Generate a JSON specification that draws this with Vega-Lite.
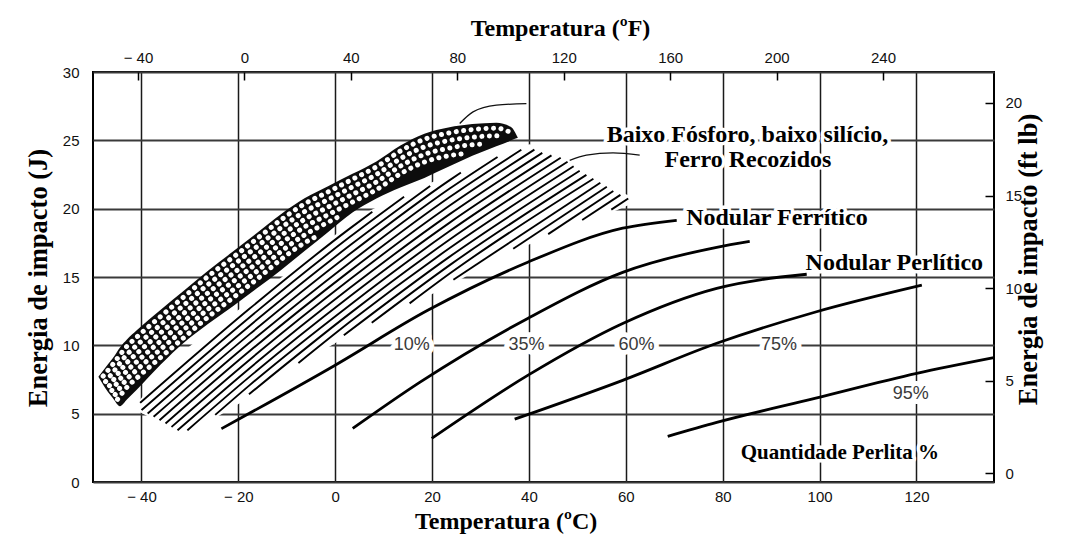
{
  "$schema": "https://vega.github.io/schema/vega-lite/v6.json",
  "description": "Energia de impacto em função da temperatura: ferros de baixo fósforo e baixo silício, ferros recozidos e ferros nodulares com diferentes teores de perlita.",
  "width": 901,
  "height": 410,
  "autosize": {"type": "none"},
  "padding": {"left": 93, "top": 72, "right": 73, "bottom": 58},
  "background": "white",
  "config": {
    "view": {"stroke": "#000", "strokeWidth": 2},
    "axis": {
      "domain": false,
      "ticks": false,
      "labelFont": "Liberation Sans",
      "labelFontSize": 15,
      "labelColor": "#111",
      "titleFont": "Liberation Serif",
      "titleFontWeight": "bold",
      "titleColor": "#000"
    }
  },
  "datasets": {
    "campo": [
      {"temp": -40.98, "sup": 5.68, "inf": 5.24},
      {"temp": -38.3, "sup": 6.93, "inf": 4.73},
      {"temp": -32.52, "sup": 9.19, "inf": 3.56},
      {"temp": -30.04, "sup": 9.93, "inf": 3.56},
      {"temp": -24.88, "sup": 11.32, "inf": 4.66},
      {"temp": -15.59, "sup": 13.73, "inf": 6.63},
      {"temp": -7.33, "sup": 16.0, "inf": 8.54},
      {"temp": 0.93, "sup": 18.34, "inf": 10.37},
      {"temp": 6.5, "sup": 19.74, "inf": 11.24},
      {"temp": 12.7, "sup": 20.83, "inf": 12.34},
      {"temp": 19.51, "sup": 21.86, "inf": 13.66},
      {"temp": 26.32, "sup": 22.88, "inf": 14.9},
      {"temp": 32.52, "sup": 23.84, "inf": 16.15},
      {"temp": 40.16, "sup": 24.72, "inf": 17.39},
      {"temp": 44.91, "sup": 24.1, "inf": 18.05},
      {"temp": 49.04, "sup": 23.37, "inf": 18.71},
      {"temp": 53.99, "sup": 22.28, "inf": 19.3},
      {"temp": 58.12, "sup": 21.35, "inf": 19.88},
      {"temp": 61.43, "sup": 20.83, "inf": 20.39}
    ],
    "hachura": [
      {"linha": "h01", "temp": -40.26, "energia": 5.79}, {"linha": "h01", "temp": -17.65, "energia": 12.69}, {"linha": "h01", "temp": 2.99, "energia": 18.54}, {"linha": "h01", "temp": 7.66, "energia": 19.77},
      {"linha": "h02", "temp": -39.97, "energia": 5.26}, {"linha": "h02", "temp": -17.65, "energia": 12.06}, {"linha": "h02", "temp": 2.99, "energia": 17.92}, {"linha": "h02", "temp": 14.22, "energia": 20.87},
      {"linha": "h03", "temp": -38.73, "energia": 5.01}, {"linha": "h03", "temp": -17.65, "energia": 11.44}, {"linha": "h03", "temp": 2.99, "energia": 17.3}, {"linha": "h03", "temp": 19.61, "energia": 21.66},
      {"linha": "h04", "temp": -37.49, "energia": 4.77}, {"linha": "h04", "temp": -17.65, "energia": 10.82}, {"linha": "h04", "temp": 2.99, "energia": 16.68}, {"linha": "h04", "temp": 23.64, "energia": 22.09}, {"linha": "h04", "temp": 25.95, "energia": 22.64},
      {"linha": "h05", "temp": -36.27, "energia": 4.52}, {"linha": "h05", "temp": -17.65, "energia": 10.2}, {"linha": "h05", "temp": 2.99, "energia": 16.05}, {"linha": "h05", "temp": 23.64, "energia": 21.47}, {"linha": "h05", "temp": 33.51, "energia": 23.78},
      {"linha": "h06", "temp": -35.03, "energia": 4.28}, {"linha": "h06", "temp": -17.65, "energia": 9.58}, {"linha": "h06", "temp": 2.99, "energia": 15.43}, {"linha": "h06", "temp": 23.64, "energia": 20.85}, {"linha": "h06", "temp": 38.42, "energia": 24.31},
      {"linha": "h07", "temp": -33.79, "energia": 4.03}, {"linha": "h07", "temp": -17.65, "energia": 8.95}, {"linha": "h07", "temp": 2.99, "energia": 14.81}, {"linha": "h07", "temp": 23.64, "energia": 20.23}, {"linha": "h07", "temp": 41.12, "energia": 24.32},
      {"linha": "h08", "temp": -32.56, "energia": 3.78}, {"linha": "h08", "temp": -17.65, "energia": 8.33}, {"linha": "h08", "temp": 2.99, "energia": 14.19}, {"linha": "h08", "temp": 23.64, "energia": 19.6}, {"linha": "h08", "temp": 42.75, "energia": 24.08},
      {"linha": "h09", "temp": -30.53, "energia": 3.78}, {"linha": "h09", "temp": -17.65, "energia": 7.71}, {"linha": "h09", "temp": 2.99, "energia": 13.57}, {"linha": "h09", "temp": 23.64, "energia": 18.98}, {"linha": "h09", "temp": 44.65, "energia": 23.9},
      {"linha": "h10", "temp": -24.77, "energia": 4.91}, {"linha": "h10", "temp": -17.65, "energia": 7.09}, {"linha": "h10", "temp": 2.99, "energia": 12.94}, {"linha": "h10", "temp": 23.64, "energia": 18.36}, {"linha": "h10", "temp": 46.55, "energia": 23.73},
      {"linha": "h11", "temp": -17.8, "energia": 6.42}, {"linha": "h11", "temp": 2.99, "energia": 12.32}, {"linha": "h11", "temp": 23.64, "energia": 17.74}, {"linha": "h11", "temp": 47.96, "energia": 23.43},
      {"linha": "h12", "temp": -7.6, "energia": 8.7}, {"linha": "h12", "temp": 2.99, "energia": 11.7}, {"linha": "h12", "temp": 23.64, "energia": 17.12}, {"linha": "h12", "temp": 49.22, "energia": 23.1},
      {"linha": "h13", "temp": 1.78, "energia": 10.73}, {"linha": "h13", "temp": 23.64, "energia": 16.49}, {"linha": "h13", "temp": 50.47, "energia": 22.77},
      {"linha": "h14", "temp": 7.54, "energia": 11.65}, {"linha": "h14", "temp": 23.64, "energia": 15.87}, {"linha": "h14", "temp": 51.86, "energia": 22.47},
      {"linha": "h15", "temp": 15.36, "energia": 13.07}, {"linha": "h15", "temp": 23.64, "energia": 15.25}, {"linha": "h15", "temp": 53.3, "energia": 22.19},
      {"linha": "h16", "temp": 24.4, "energia": 14.8}, {"linha": "h16", "temp": 54.73, "energia": 21.9},
      {"linha": "h17", "temp": 36.75, "energia": 17.07}, {"linha": "h17", "temp": 56.07, "energia": 21.6},
      {"linha": "h18", "temp": 43.97, "energia": 18.14}, {"linha": "h18", "temp": 57.41, "energia": 21.29},
      {"linha": "h19", "temp": 50.99, "energia": 19.17}, {"linha": "h19", "temp": 58.88, "energia": 21.01},
      {"linha": "h20", "temp": 57.0, "energia": 19.93}, {"linha": "h20", "temp": 60.49, "energia": 20.74}
    ],
    "malha": [
      {"temp": -48.89, "sup": 7.7, "inf": 7.7},
      {"temp": -46.91, "sup": 8.61, "inf": 6.59},
      {"temp": -45.92, "sup": 9.05, "inf": 6.15},
      {"temp": -44.43, "sup": 9.85, "inf": 5.55},
      {"temp": -42.95, "sup": 10.45, "inf": 6.05},
      {"temp": -40.97, "sup": 11.1, "inf": 6.75},
      {"temp": -36.02, "sup": 12.6, "inf": 8.6},
      {"temp": -31.07, "sup": 14.05, "inf": 10.25},
      {"temp": -26.13, "sup": 15.5, "inf": 11.6},
      {"temp": -21.18, "sup": 16.84, "inf": 12.84},
      {"temp": -16.23, "sup": 18.2, "inf": 14.15},
      {"temp": -11.28, "sup": 19.58, "inf": 15.48},
      {"temp": -6.33, "sup": 20.76, "inf": 16.9},
      {"temp": -1.38, "sup": 21.66, "inf": 18.31},
      {"temp": 3.57, "sup": 22.55, "inf": 19.72},
      {"temp": 8.51, "sup": 23.46, "inf": 20.74},
      {"temp": 13.46, "sup": 24.62, "inf": 21.54},
      {"temp": 18.41, "sup": 25.48, "inf": 22.25},
      {"temp": 23.36, "sup": 25.94, "inf": 23.06},
      {"temp": 28.31, "sup": 26.19, "inf": 23.87},
      {"temp": 33.26, "sup": 26.29, "inf": 24.57},
      {"temp": 36.23, "sup": 25.99, "inf": 24.98},
      {"temp": 37.71, "sup": 25.18, "inf": 25.18}
    ],
    "furos": [
      {"fila": "A", "temp": -47.9, "energia": 7.75}, {"fila": "A", "temp": -45.92, "energia": 8.6}, {"fila": "A", "temp": -42.95, "energia": 9.95}, {"fila": "A", "temp": -40.97, "energia": 10.6}, {"fila": "A", "temp": -36.02, "energia": 12.12}, {"fila": "A", "temp": -31.07, "energia": 13.6}, {"fila": "A", "temp": -26.13, "energia": 15.08}, {"fila": "A", "temp": -21.18, "energia": 16.42}, {"fila": "A", "temp": -16.23, "energia": 17.78}, {"fila": "A", "temp": -11.28, "energia": 19.16}, {"fila": "A", "temp": -6.33, "energia": 20.35}, {"fila": "A", "temp": -1.38, "energia": 21.24}, {"fila": "A", "temp": 3.57, "energia": 22.15}, {"fila": "A", "temp": 8.51, "energia": 23.06}, {"fila": "A", "temp": 13.46, "energia": 24.22}, {"fila": "A", "temp": 18.41, "energia": 25.08}, {"fila": "A", "temp": 23.36, "energia": 25.53}, {"fila": "A", "temp": 28.31, "energia": 25.79}, {"fila": "A", "temp": 33.26, "energia": 25.89}, {"fila": "A", "temp": 36.23, "energia": 25.58},
      {"fila": "B", "temp": -47.4, "energia": 7.35}, {"fila": "B", "temp": -45.92, "energia": 8.0}, {"fila": "B", "temp": -42.95, "energia": 9.35}, {"fila": "B", "temp": -40.97, "energia": 10.0}, {"fila": "B", "temp": -36.02, "energia": 11.52}, {"fila": "B", "temp": -31.07, "energia": 13.0}, {"fila": "B", "temp": -26.13, "energia": 14.48}, {"fila": "B", "temp": -21.18, "energia": 15.84}, {"fila": "B", "temp": -16.23, "energia": 17.2}, {"fila": "B", "temp": -11.28, "energia": 18.58}, {"fila": "B", "temp": -6.33, "energia": 19.78}, {"fila": "B", "temp": -1.38, "energia": 20.68}, {"fila": "B", "temp": 3.57, "energia": 21.59}, {"fila": "B", "temp": 8.51, "energia": 22.5}, {"fila": "B", "temp": 13.46, "energia": 23.66}, {"fila": "B", "temp": 18.41, "energia": 24.52}, {"fila": "B", "temp": 23.36, "energia": 24.98}, {"fila": "B", "temp": 28.31, "energia": 25.23}, {"fila": "B", "temp": 33.26, "energia": 25.33}, {"fila": "B", "temp": 34.74, "energia": 25.18},
      {"fila": "C", "temp": -46.61, "energia": 7.05}, {"fila": "C", "temp": -45.92, "energia": 7.4}, {"fila": "C", "temp": -42.95, "energia": 8.75}, {"fila": "C", "temp": -40.97, "energia": 9.4}, {"fila": "C", "temp": -36.02, "energia": 10.92}, {"fila": "C", "temp": -31.07, "energia": 12.4}, {"fila": "C", "temp": -26.13, "energia": 13.88}, {"fila": "C", "temp": -21.18, "energia": 15.24}, {"fila": "C", "temp": -16.23, "energia": 16.6}, {"fila": "C", "temp": -11.28, "energia": 18.0}, {"fila": "C", "temp": -6.33, "energia": 19.22}, {"fila": "C", "temp": -1.38, "energia": 20.13}, {"fila": "C", "temp": 3.57, "energia": 21.04}, {"fila": "C", "temp": 8.51, "energia": 21.95}, {"fila": "C", "temp": 13.46, "energia": 23.11}, {"fila": "C", "temp": 18.41, "energia": 23.97}, {"fila": "C", "temp": 23.36, "energia": 24.42}, {"fila": "C", "temp": 28.31, "energia": 24.68}, {"fila": "C", "temp": 31.28, "energia": 24.73},
      {"fila": "D", "temp": -46.12, "energia": 6.7}, {"fila": "D", "temp": -42.95, "energia": 8.15}, {"fila": "D", "temp": -40.97, "energia": 8.8}, {"fila": "D", "temp": -36.02, "energia": 10.32}, {"fila": "D", "temp": -31.07, "energia": 11.8}, {"fila": "D", "temp": -26.13, "energia": 13.28}, {"fila": "D", "temp": -21.18, "energia": 14.64}, {"fila": "D", "temp": -16.23, "energia": 16.0}, {"fila": "D", "temp": -11.28, "energia": 17.42}, {"fila": "D", "temp": -6.33, "energia": 18.66}, {"fila": "D", "temp": -1.38, "energia": 19.57}, {"fila": "D", "temp": 3.57, "energia": 20.48}, {"fila": "D", "temp": 8.51, "energia": 21.39}, {"fila": "D", "temp": 13.46, "energia": 22.55}, {"fila": "D", "temp": 18.41, "energia": 23.41}, {"fila": "D", "temp": 23.36, "energia": 23.87}, {"fila": "D", "temp": 26.33, "energia": 24.02},
      {"fila": "E", "temp": -45.42, "energia": 6.4}, {"fila": "E", "temp": -42.95, "energia": 7.55}, {"fila": "E", "temp": -40.97, "energia": 8.2}, {"fila": "E", "temp": -36.02, "energia": 9.72}, {"fila": "E", "temp": -31.07, "energia": 11.2}, {"fila": "E", "temp": -26.13, "energia": 12.68}, {"fila": "E", "temp": -21.18, "energia": 14.04}, {"fila": "E", "temp": -16.23, "energia": 15.4}, {"fila": "E", "temp": -11.28, "energia": 16.84}, {"fila": "E", "temp": -6.33, "energia": 18.08}, {"fila": "E", "temp": -1.38, "energia": 19.02}, {"fila": "E", "temp": 1.59, "energia": 19.57},
      {"fila": "F", "temp": -44.93, "energia": 6.05}, {"fila": "F", "temp": -42.95, "energia": 6.95}, {"fila": "F", "temp": -40.97, "energia": 7.6}, {"fila": "F", "temp": -36.02, "energia": 9.12}, {"fila": "F", "temp": -31.07, "energia": 10.62}, {"fila": "F", "temp": -26.13, "energia": 12.1}, {"fila": "F", "temp": -21.18, "energia": 13.46}, {"fila": "F", "temp": -16.23, "energia": 14.82}, {"fila": "F", "temp": -11.28, "energia": 16.26}, {"fila": "F", "temp": -6.33, "energia": 17.5}, {"fila": "F", "temp": -3.36, "energia": 18.05}
    ],
    "curvas": [
      {"serie": "10%", "temp": -23.49, "energia": 3.9}, {"serie": "10%", "temp": -0.1, "energia": 8.53}, {"serie": "10%", "temp": 19.1, "energia": 12.56}, {"serie": "10%", "temp": 39.74, "energia": 16.08}, {"serie": "10%", "temp": 59.35, "energia": 18.57}, {"serie": "10%", "temp": 70.5, "energia": 19.15},
      {"serie": "35%", "temp": 3.61, "energia": 3.92}, {"serie": "35%", "temp": 17.44, "energia": 7.29}, {"serie": "35%", "temp": 39.74, "energia": 11.97}, {"serie": "35%", "temp": 59.35, "energia": 15.34}, {"serie": "35%", "temp": 78.76, "energia": 17.17}, {"serie": "35%", "temp": 85.57, "energia": 17.6},
      {"serie": "60%", "temp": 19.92, "energia": 3.19}, {"serie": "60%", "temp": 39.74, "energia": 7.8}, {"serie": "60%", "temp": 59.35, "energia": 11.6}, {"serie": "60%", "temp": 78.76, "energia": 14.17}, {"serie": "60%", "temp": 97.34, "energia": 15.2},
      {"serie": "75%", "temp": 37.05, "energia": 4.6}, {"serie": "75%", "temp": 59.35, "energia": 7.44}, {"serie": "75%", "temp": 78.76, "energia": 10.15}, {"serie": "75%", "temp": 99.0, "energia": 12.42}, {"serie": "75%", "temp": 121.1, "energia": 14.4},
      {"serie": "95%", "temp": 68.64, "energia": 3.34}, {"serie": "95%", "temp": 78.76, "energia": 4.36}, {"serie": "95%", "temp": 99.0, "energia": 6.12}, {"serie": "95%", "temp": 120.05, "energia": 7.95}, {"serie": "95%", "temp": 136.0, "energia": 9.1}
    ],
    "guias": [
      {"guia": "baixo P", "temp": 25.7, "energia": 26.23}, {"guia": "baixo P", "temp": 28.45, "energia": 27.08}, {"guia": "baixo P", "temp": 33.28, "energia": 27.57}, {"guia": "baixo P", "temp": 39.47, "energia": 27.69},
      {"guia": "recozido", "temp": 48.41, "energia": 23.54}, {"guia": "recozido", "temp": 51.86, "energia": 23.91}, {"guia": "recozido", "temp": 57.35, "energia": 24.08}, {"guia": "recozido", "temp": 62.86, "energia": 23.91}
    ],
    "rotulos": [
      {"texto": "10%", "temp": 15.8, "energia": 10},
      {"texto": "35%", "temp": 39.5, "energia": 10},
      {"texto": "60%", "temp": 62.2, "energia": 10},
      {"texto": "75%", "temp": 91.6, "energia": 10},
      {"texto": "95%", "temp": 118.8, "energia": 6.41}
    ],
    "notasCentro": [
      {"texto": "Baixo Fósforo, baixo silício,", "temp": 85.1, "energia": 24.9},
      {"texto": "Ferro Recozidos", "temp": 85.2, "energia": 23.05}
    ],
    "notasEsquerda": [
      {"texto": "Nodular Ferrítico", "temp": 72.45, "energia": 18.78},
      {"texto": "Nodular Perlítico", "temp": 97.1, "energia": 15.5}
    ],
    "notaPerlita": [
      {"texto": "Quantidade Perlita %", "temp": 83.7, "energia": 1.68}
    ],
    "escalaF": [
      {"f": -40}, {"f": 0}, {"f": 40}, {"f": 80}, {"f": 120}, {"f": 160}, {"f": 200}, {"f": 240}
    ],
    "escalaFtLb": [
      {"ftlb": 0}, {"ftlb": 5}, {"ftlb": 10}, {"ftlb": 15}, {"ftlb": 20}
    ]
  },
  "resolve": {
    "scale": {"x": "independent", "y": "independent"},
    "axis": {"x": "independent", "y": "independent"}
  },
  "layer": [
    {
      "data": {"name": "campo"},
      "mark": {"type": "area", "fill": "white", "interpolate": "linear"},
      "encoding": {
        "x": {
          "field": "temp", "type": "quantitative",
          "scale": {"domain": [-50, 136], "nice": false, "zero": false},
          "axis": {
            "orient": "bottom",
            "values": [-40, -20, 0, 20, 40, 60, 80, 100, 120],
            "labelExpr": "datum.value < 0 ? '− ' + abs(datum.value) : '' + datum.value",
            "grid": true, "gridColor": "#1a1a1a", "gridWidth": 1.5,
            "labelPadding": 7,
            "title": "Temperatura (ºC)", "titleFontSize": 24,
            "titleX": 412.6, "titleY": 46.3, "titleAlign": "center", "titleBaseline": "alphabetic",
            "zindex": 0
          }
        },
        "y": {
          "field": "sup", "type": "quantitative",
          "scale": {"domain": [0, 30], "nice": false, "zero": false},
          "axis": {
            "orient": "left",
            "values": [0, 5, 10, 15, 20, 25, 30],
            "grid": true, "gridColor": "#3a3a3a", "gridWidth": 2,
            "labelPadding": 14,
            "title": "Energia de impacto (J)", "titleFontSize": 26.5, "titleAngle": 270,
            "titleX": -47, "titleY": 205.5, "titleAlign": "center", "titleBaseline": "alphabetic",
            "zindex": 0
          }
        },
        "y2": {"field": "inf"}
      }
    },
    {
      "data": {"name": "hachura"},
      "mark": {"type": "line", "color": "#000", "strokeWidth": 1.9, "interpolate": "monotone"},
      "encoding": {
        "x": {"field": "temp", "type": "quantitative", "scale": {"domain": [-50, 136], "nice": false, "zero": false}, "axis": null},
        "y": {"field": "energia", "type": "quantitative", "scale": {"domain": [0, 30], "nice": false, "zero": false}, "axis": null},
        "detail": {"field": "linha"}
      }
    },
    {
      "data": {"name": "malha"},
      "mark": {"type": "area", "fill": "#0d0d0d", "interpolate": "monotone"},
      "encoding": {
        "x": {"field": "temp", "type": "quantitative", "scale": {"domain": [-50, 136], "nice": false, "zero": false}, "axis": null},
        "y": {"field": "sup", "type": "quantitative", "scale": {"domain": [0, 30], "nice": false, "zero": false}, "axis": null},
        "y2": {"field": "inf"}
      }
    },
    {
      "data": {"name": "furos"},
      "mark": {"type": "line", "color": "white", "strokeWidth": 5, "strokeDash": [0.1, 7.4], "strokeCap": "round", "interpolate": "monotone"},
      "encoding": {
        "x": {"field": "temp", "type": "quantitative", "scale": {"domain": [-50, 136], "nice": false, "zero": false}, "axis": null},
        "y": {"field": "energia", "type": "quantitative", "scale": {"domain": [0, 30], "nice": false, "zero": false}, "axis": null},
        "detail": {"field": "fila"}
      }
    },
    {
      "data": {"name": "rotulos"},
      "mark": {"type": "text", "font": "Liberation Sans", "fontSize": 18, "fill": "white", "stroke": "white", "strokeWidth": 10, "strokeJoin": "round", "align": "center", "baseline": "middle"},
      "encoding": {
        "x": {"field": "temp", "type": "quantitative", "scale": {"domain": [-50, 136], "nice": false, "zero": false}, "axis": null},
        "y": {"field": "energia", "type": "quantitative", "scale": {"domain": [0, 30], "nice": false, "zero": false}, "axis": null},
        "text": {"field": "texto"}
      }
    },
    {
      "data": {"name": "notasCentro"},
      "mark": {"type": "text", "font": "Liberation Serif", "fontWeight": "bold", "fontSize": 24, "fill": "white", "stroke": "white", "strokeWidth": 7, "strokeJoin": "round", "align": "center", "baseline": "alphabetic"},
      "encoding": {
        "x": {"field": "temp", "type": "quantitative", "scale": {"domain": [-50, 136], "nice": false, "zero": false}, "axis": null},
        "y": {"field": "energia", "type": "quantitative", "scale": {"domain": [0, 30], "nice": false, "zero": false}, "axis": null},
        "text": {"field": "texto"}
      }
    },
    {
      "data": {"name": "notasEsquerda"},
      "mark": {"type": "text", "font": "Liberation Serif", "fontWeight": "bold", "fontSize": 24, "fill": "white", "stroke": "white", "strokeWidth": 7, "strokeJoin": "round", "align": "left", "baseline": "alphabetic"},
      "encoding": {
        "x": {"field": "temp", "type": "quantitative", "scale": {"domain": [-50, 136], "nice": false, "zero": false}, "axis": null},
        "y": {"field": "energia", "type": "quantitative", "scale": {"domain": [0, 30], "nice": false, "zero": false}, "axis": null},
        "text": {"field": "texto"}
      }
    },
    {
      "data": {"name": "notaPerlita"},
      "mark": {"type": "text", "font": "Liberation Serif", "fontWeight": "bold", "fontSize": 21, "fill": "white", "stroke": "white", "strokeWidth": 7, "strokeJoin": "round", "align": "left", "baseline": "alphabetic"},
      "encoding": {
        "x": {"field": "temp", "type": "quantitative", "scale": {"domain": [-50, 136], "nice": false, "zero": false}, "axis": null},
        "y": {"field": "energia", "type": "quantitative", "scale": {"domain": [0, 30], "nice": false, "zero": false}, "axis": null},
        "text": {"field": "texto"}
      }
    },
    {
      "data": {"name": "curvas"},
      "mark": {"type": "line", "color": "#000", "strokeWidth": 2.8, "interpolate": "monotone"},
      "encoding": {
        "x": {"field": "temp", "type": "quantitative", "scale": {"domain": [-50, 136], "nice": false, "zero": false}, "axis": null},
        "y": {"field": "energia", "type": "quantitative", "scale": {"domain": [0, 30], "nice": false, "zero": false}, "axis": null},
        "detail": {"field": "serie"}
      }
    },
    {
      "data": {"name": "guias"},
      "mark": {"type": "line", "color": "#111", "strokeWidth": 1.3, "interpolate": "monotone"},
      "encoding": {
        "x": {"field": "temp", "type": "quantitative", "scale": {"domain": [-50, 136], "nice": false, "zero": false}, "axis": null},
        "y": {"field": "energia", "type": "quantitative", "scale": {"domain": [0, 30], "nice": false, "zero": false}, "axis": null},
        "detail": {"field": "guia"}
      }
    },
    {
      "data": {"name": "rotulos"},
      "mark": {"type": "text", "font": "Liberation Sans", "fontSize": 18, "fill": "#3a3a3a", "align": "center", "baseline": "middle"},
      "encoding": {
        "x": {"field": "temp", "type": "quantitative", "scale": {"domain": [-50, 136], "nice": false, "zero": false}, "axis": null},
        "y": {"field": "energia", "type": "quantitative", "scale": {"domain": [0, 30], "nice": false, "zero": false}, "axis": null},
        "text": {"field": "texto"}
      }
    },
    {
      "data": {"name": "notasCentro"},
      "mark": {"type": "text", "font": "Liberation Serif", "fontWeight": "bold", "fontSize": 24, "fill": "#000", "align": "center", "baseline": "alphabetic"},
      "encoding": {
        "x": {"field": "temp", "type": "quantitative", "scale": {"domain": [-50, 136], "nice": false, "zero": false}, "axis": null},
        "y": {"field": "energia", "type": "quantitative", "scale": {"domain": [0, 30], "nice": false, "zero": false}, "axis": null},
        "text": {"field": "texto"}
      }
    },
    {
      "data": {"name": "notasEsquerda"},
      "mark": {"type": "text", "font": "Liberation Serif", "fontWeight": "bold", "fontSize": 24, "fill": "#000", "align": "left", "baseline": "alphabetic"},
      "encoding": {
        "x": {"field": "temp", "type": "quantitative", "scale": {"domain": [-50, 136], "nice": false, "zero": false}, "axis": null},
        "y": {"field": "energia", "type": "quantitative", "scale": {"domain": [0, 30], "nice": false, "zero": false}, "axis": null},
        "text": {"field": "texto"}
      }
    },
    {
      "data": {"name": "notaPerlita"},
      "mark": {"type": "text", "font": "Liberation Serif", "fontWeight": "bold", "fontSize": 21, "fill": "#000", "align": "left", "baseline": "alphabetic"},
      "encoding": {
        "x": {"field": "temp", "type": "quantitative", "scale": {"domain": [-50, 136], "nice": false, "zero": false}, "axis": null},
        "y": {"field": "energia", "type": "quantitative", "scale": {"domain": [0, 30], "nice": false, "zero": false}, "axis": null},
        "text": {"field": "texto"}
      }
    },
    {
      "data": {"name": "escalaF"},
      "mark": {"type": "point", "opacity": 0},
      "encoding": {
        "x": {
          "field": "f", "type": "quantitative",
          "scale": {"domain": [-56.9, 281.7], "nice": false, "zero": false},
          "axis": {
            "orient": "top",
            "values": [-40, 0, 40, 80, 120, 160, 200, 240],
            "labelExpr": "datum.value < 0 ? '− ' + abs(datum.value) : '' + datum.value",
            "ticks": true, "tickSize": -8, "tickColor": "#000", "tickWidth": 1.5,
            "labelPadding": 15, "grid": false,
            "title": "Temperatura (ºF)", "titleFontSize": 24,
            "titleX": 467, "titleY": -37, "titleAlign": "center", "titleBaseline": "alphabetic",
            "zindex": 1
          }
        }
      }
    },
    {
      "data": {"name": "escalaFtLb"},
      "mark": {"type": "point", "opacity": 0},
      "encoding": {
        "y": {
          "field": "ftlb", "type": "quantitative",
          "scale": {"domain": [-0.46, 21.67], "nice": false, "zero": false},
          "axis": {
            "orient": "right",
            "values": [0, 5, 10, 15, 20],
            "ticks": true, "tickSize": -9, "tickColor": "#000", "tickWidth": 1.5,
            "labelPadding": 20, "grid": false,
            "title": "Energia de impacto (ft  lb)", "titleFontSize": 26.5, "titleAngle": 270,
            "titleX": 42.4, "titleY": 187, "titleAlign": "center", "titleBaseline": "alphabetic",
            "zindex": 1
          }
        }
      }
    }
  ]
}
